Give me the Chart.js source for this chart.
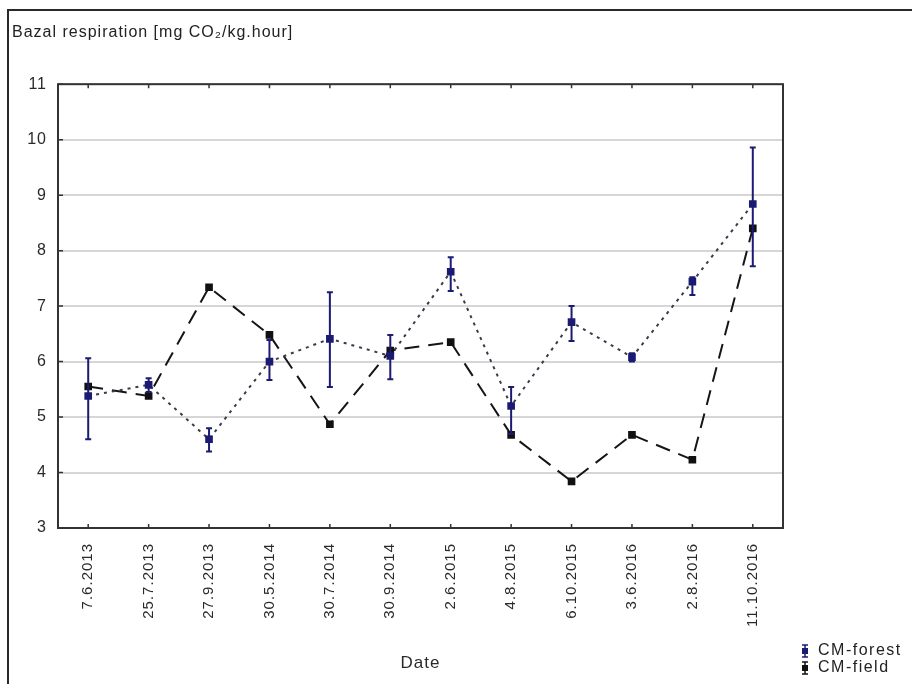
<!DOCTYPE html>
<html>
<head>
<meta charset="utf-8">
<script src="https://cdn.jsdelivr.net/npm/chart.js@4/dist/chart.umd.min.js"></script>
<style>
  html, body { margin: 0; padding: 0; background: #ffffff; }
  #wrap { width: 912px; height: 684px; position: relative; }
</style>
</head>
<body>
<div id="wrap"><canvas id="c" width="912" height="684"></canvas></div>
<script>
// ---- data ----
const categories = ['7.6.2013', '25.7.2013', '27.9.2013', '30.5.2014', '30.7.2014', '30.9.2014',
                    '2.6.2015', '4.8.2015', '6.10.2015', '3.6.2016', '2.8.2016', '11.10.2016'];
const seriesNames = ['CM-forest', 'CM-field'];
const forestValues = [5.38, 5.58, 4.60, 6.00, 6.41, 6.10, 7.62, 5.20, 6.71, 6.08, 7.44, 8.84];
const forestLower  = [4.60, 5.45, 4.38, 5.67, 5.54, 5.68, 7.27, 4.70, 6.37, 6.00, 7.20, 7.72];
const forestUpper  = [6.06, 5.70, 4.80, 6.39, 7.25, 6.48, 7.88, 5.54, 7.00, 6.15, 7.52, 9.86];
const fieldValues  = [5.55, 5.38, 7.34, 6.48, 4.87, 6.20, 6.35, 4.68, 3.84, 4.68, 4.23, 8.40];
const yMin = 3, yMax = 11, yStep = 1;
const titleText = 'Bazal respiration [mg CO\u2082/kg.hour]';
const xTitleText = 'Date';

const NAVY = '#1b1b74';
const FONT = "'Liberation Sans', Arial, sans-serif";

function setSpacing(chart) {
  try { chart.ctx.letterSpacing = '1px'; } catch (e) {}
}

const spacingPlugin = {
  id: 'spacing',
  beforeUpdate: setSpacing,
  beforeLayout: setSpacing,
  beforeDraw: setSpacing,
  beforeRender: setSpacing
};

const framePlugin = {
  id: 'frame',
  beforeDraw(chart) {
    const ctx = chart.ctx;
    ctx.save();
    ctx.fillStyle = '#ffffff';
    ctx.fillRect(0, 0, chart.width, chart.height);
    ctx.strokeStyle = '#2a2a2a';
    ctx.lineWidth = 2;
    ctx.beginPath();
    ctx.moveTo(8, chart.height);
    ctx.lineTo(8, 10);
    ctx.lineTo(chart.width, 10);
    ctx.stroke();
    ctx.restore();
  },
  afterDraw(chart) {
    const ctx = chart.ctx, a = chart.chartArea;
    const xs = chart.scales.x, ys = chart.scales.y;
    ctx.save();
    ctx.strokeStyle = '#333333';
    ctx.lineWidth = 2;
    ctx.strokeRect(a.left, a.top, a.right - a.left, a.bottom - a.top);
    ctx.lineWidth = 1.5;
    ctx.beginPath();
    for (let v = yMin; v <= yMax; v += yStep) {
      const y = ys.getPixelForValue(v);
      ctx.moveTo(a.left, y); ctx.lineTo(a.left + 5, y);
    }
    for (let i = 0; i < categories.length; i++) {
      const x = xs.getPixelForValue(i);
      ctx.moveTo(x, a.top); ctx.lineTo(x, a.top + 4);
      ctx.moveTo(x, a.bottom); ctx.lineTo(x, a.bottom - 4);
    }
    ctx.stroke();
    ctx.restore();
  }
};

const errorBarPlugin = {
  id: 'errorBars',
  afterDatasetsDraw(chart) {
    const ctx = chart.ctx;
    const xs = chart.scales.x, ys = chart.scales.y;
    ctx.save();
    ctx.strokeStyle = NAVY;
    ctx.lineWidth = 2;
    for (let i = 0; i < categories.length; i++) {
      const x = xs.getPixelForValue(i);
      const y1 = ys.getPixelForValue(forestLower[i]);
      const y2 = ys.getPixelForValue(forestUpper[i]);
      ctx.beginPath();
      ctx.moveTo(x, y1); ctx.lineTo(x, y2);
      ctx.moveTo(x - 3, y1); ctx.lineTo(x + 3, y1);
      ctx.moveTo(x - 3, y2); ctx.lineTo(x + 3, y2);
      ctx.stroke();
    }
    ctx.restore();
  }
};

const legendPlugin = {
  id: 'customLegend',
  afterDraw(chart) {
    const ctx = chart.ctx;
    const items = chart.data.datasets.map(d => ({ label: d.label, color: d.pointBackgroundColor }));
    ctx.save();
    try { ctx.letterSpacing = '1.5px'; } catch (e) {}
    ctx.font = '16px ' + FONT;
    ctx.textBaseline = 'middle';
    ctx.textAlign = 'left';
    items.forEach((it, k) => {
      const y = 651 + k * 17;
      const x = 805;
      ctx.strokeStyle = it.color;
      ctx.fillStyle = it.color;
      ctx.lineWidth = 1.5;
      ctx.beginPath();
      ctx.moveTo(x, y - 6); ctx.lineTo(x, y + 6);
      ctx.moveTo(x - 3, y - 6); ctx.lineTo(x + 3, y - 6);
      ctx.moveTo(x - 3, y + 6); ctx.lineTo(x + 3, y + 6);
      ctx.stroke();
      ctx.fillRect(x - 3, y - 3, 6, 6);
      ctx.fillStyle = '#222222';
      ctx.fillText(it.label, x + 13, y);
    });
    ctx.restore();
  }
};

new Chart(document.getElementById('c'), {
  type: 'line',
  data: {
    labels: categories,
    datasets: [
      {
        label: seriesNames[0],
        data: forestValues,
        borderColor: '#3a3a4a',
        borderWidth: 2,
        borderDash: [3, 5],
        pointStyle: 'rect',
        pointRadius: 4,
        pointBackgroundColor: NAVY,
        pointBorderColor: NAVY,
        tension: 0,
        fill: false
      },
      {
        label: seriesNames[1],
        data: fieldValues,
        borderColor: '#151515',
        borderWidth: 2,
        borderDash: [15, 9],
        pointStyle: 'rect',
        pointRadius: 4,
        pointBackgroundColor: '#111111',
        pointBorderColor: '#111111',
        tension: 0,
        fill: false
      }
    ]
  },
  options: {
    responsive: false,
    animation: false,
    devicePixelRatio: 1,
    layout: { padding: { left: 12, top: 0, right: 129, bottom: 0 } },
    plugins: {
      legend: { display: false },
      tooltip: { enabled: false },
      title: {
        display: true,
        text: titleText,
        align: 'start',
        color: '#222222',
        font: { family: FONT, size: 16, weight: 'normal' },
        padding: { top: 23, bottom: 42 }
      }
    },
    scales: {
      x: {
        type: 'category',
        offset: true,
        grid: { display: false, drawTicks: false },
        border: { display: false },
        ticks: {
          autoSkip: false,
          minRotation: 90,
          maxRotation: 90,
          padding: 15,
          color: '#2a2a2a',
          font: { family: FONT, size: 15 }
        },
        title: {
          display: true,
          text: xTitleText,
          color: '#2a2a2a',
          font: { family: FONT, size: 17 },
          padding: { top: 0, bottom: 10 }
        },
        afterFit(scale) { scale.height = 156; }
      },
      y: {
        min: yMin,
        max: yMax,
        grid: { color: '#d6d6d6', lineWidth: 2, drawTicks: false },
        border: { display: false },
        ticks: {
          stepSize: yStep,
          padding: 11,
          color: '#2a2a2a',
          font: { family: FONT, size: 16 }
        },
        afterFit(scale) { scale.width = 46; }
      }
    }
  },
  plugins: [spacingPlugin, framePlugin, errorBarPlugin, legendPlugin]
});
</script>
</body>
</html>
